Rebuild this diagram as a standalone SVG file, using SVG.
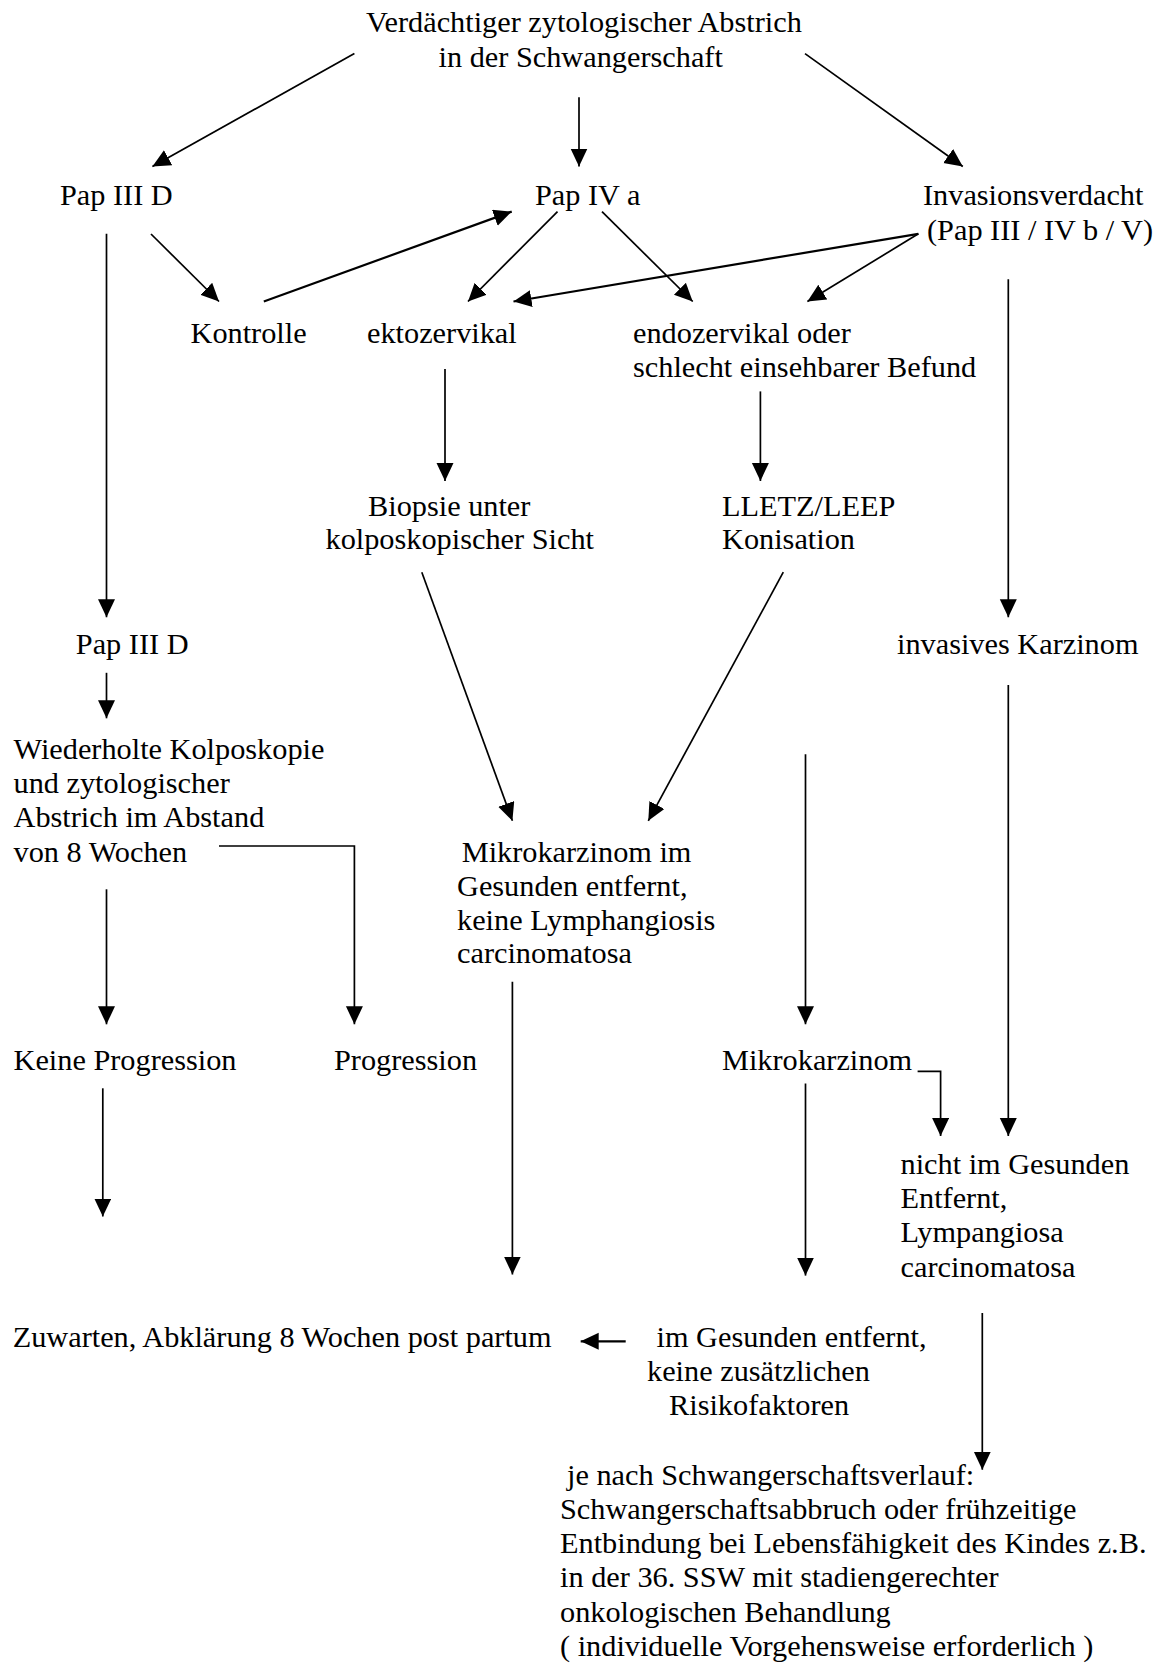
<svg xmlns="http://www.w3.org/2000/svg" width="1158" height="1663" viewBox="0 0 1158 1663">
<style>
text { font-family: "Liberation Serif", "Times New Roman", serif; font-size: 30.3px; fill: #000; }
.c { fill: none; stroke: #000; stroke-width: 1.7; marker-end: url(#ah); }
.t { stroke-width: 2.2; }
</style>
<defs>
<marker id="ah" markerUnits="userSpaceOnUse" markerWidth="19" markerHeight="18" refX="18" refY="8.5" orient="auto">
<path d="M0,0 L18,8.5 L0,17 z" fill="#000"/>
</marker>
</defs>
<rect width="1158" height="1663" fill="#fff"/>
<g id="connectors">
<line class="c" x1="354.4" y1="53.6" x2="152.4" y2="166.5"/>
<line class="c" x1="579" y1="97.3" x2="579" y2="166.5"/>
<line class="c" x1="805" y1="53.6" x2="962.8" y2="166.5"/>
<line class="c" x1="106.5" y1="233.8" x2="106.5" y2="617.3"/>
<line class="c" x1="151" y1="234" x2="219" y2="301.5"/>
<line class="c t" x1="263.8" y1="301.5" x2="511.7" y2="211.6"/>
<line class="c" x1="557.5" y1="211.6" x2="468" y2="301.5"/>
<line class="c" x1="602" y1="211.6" x2="692.7" y2="301.5"/>
<line class="c t" x1="918.4" y1="233.8" x2="513.5" y2="301.5"/>
<line class="c" x1="918.4" y1="233.8" x2="807.4" y2="301.5"/>
<line class="c" x1="445" y1="369" x2="445" y2="481"/>
<line class="c" x1="760.4" y1="391.4" x2="760.4" y2="481"/>
<line class="c" x1="1008.3" y1="279.3" x2="1008.3" y2="617.3"/>
<line class="c" x1="421.8" y1="572.2" x2="512.4" y2="820.8"/>
<line class="c" x1="783.3" y1="572.2" x2="648.3" y2="820.8"/>
<line class="c" x1="106.5" y1="672.8" x2="106.5" y2="718.3"/>
<line class="c" x1="1008.3" y1="685" x2="1008.3" y2="1136"/>
<line class="c" x1="805.5" y1="754.2" x2="805.5" y2="1024.3"/>
<path class="c" d="M219,846 H354.4 V1024.3"/>
<line class="c" x1="106.5" y1="889.3" x2="106.5" y2="1024.3"/>
<line class="c" x1="102.8" y1="1088.3" x2="102.8" y2="1216.5"/>
<line class="c" x1="512.4" y1="981.8" x2="512.4" y2="1274.5"/>
<line class="c" x1="805.5" y1="1083.5" x2="805.5" y2="1275.6"/>
<path class="c" d="M917.6,1071.3 H940.6 V1136"/>
<line class="c t" x1="625.7" y1="1341.3" x2="580.7" y2="1341.3"/>
<line class="c" x1="982.3" y1="1313" x2="982.3" y2="1469.7"/>
</g>
<g id="n-start"><text x="366" y="31.5">Verdächtiger zytologischer Abstrich</text><text x="438.5" y="66.5">in der Schwangerschaft</text></g>
<g id="n-pap3d"><text x="60" y="204.5">Pap III D</text></g>
<g id="n-pap4a"><text x="535" y="204.5">Pap IV a</text></g>
<g id="n-invasion"><text x="923" y="204.5">Invasionsverdacht</text><text x="927" y="239.7">(Pap III / IV b / V)</text></g>
<g id="n-kontrolle"><text x="190.5" y="343.3">Kontrolle</text></g>
<g id="n-ekto"><text x="367" y="343.3">ektozervikal</text></g>
<g id="n-endo"><text x="633" y="343.3">endozervikal oder</text><text x="633" y="376.6">schlecht einsehbarer Befund</text></g>
<g id="n-biopsie"><text x="368" y="516">Biopsie unter</text><text x="325.5" y="549.4">kolposkopischer Sicht</text></g>
<g id="n-lletz"><text x="722" y="516">LLETZ/LEEP</text><text x="722" y="549.4">Konisation</text></g>
<g id="n-pap3d2"><text x="75.8" y="654.3">Pap III D</text></g>
<g id="n-invasiv"><text x="897" y="654.3">invasives Karzinom</text></g>
<g id="n-wiederholt"><text x="13.5" y="759">Wiederholte Kolposkopie</text><text x="13.5" y="793">und zytologischer</text><text x="13.5" y="827">Abstrich im Abstand</text><text x="13.5" y="861.5">von 8 Wochen</text></g>
<g id="n-mikro1"><text x="461.7" y="861.5">Mikrokarzinom im</text><text x="457" y="896">Gesunden entfernt,</text><text x="457" y="930">keine Lymphangiosis</text><text x="457" y="963.3">carcinomatosa</text></g>
<g id="n-keine"><text x="13.5" y="1069.8">Keine Progression</text></g>
<g id="n-prog"><text x="334" y="1069.8">Progression</text></g>
<g id="n-mikro2"><text x="722" y="1069.8">Mikrokarzinom</text></g>
<g id="n-nicht"><text x="900.5" y="1173.5">nicht im Gesunden</text><text x="900.5" y="1207.5">Entfernt,</text><text x="900.5" y="1241.6">Lympangiosa</text><text x="900.5" y="1276.7">carcinomatosa</text></g>
<g id="n-zuwarten"><text x="12.7" y="1347">Zuwarten, Abklärung 8 Wochen post partum</text></g>
<g id="n-imgesunden"><text x="656.5" y="1347">im Gesunden entfernt,</text><text x="647" y="1381.3">keine zusätzlichen</text><text x="669" y="1414.7">Risikofaktoren</text></g>
<g id="n-jenach"><text x="567" y="1484.7">je nach Schwangerschaftsverlauf:</text><text x="560" y="1518.5">Schwangerschaftsabbruch oder frühzeitige</text><text x="560" y="1552.5">Entbindung bei Lebensfähigkeit des Kindes z.B.</text><text x="560" y="1587.3">in der 36. SSW mit stadiengerechter</text><text x="560" y="1622">onkologischen Behandlung</text><text x="560" y="1656.3">( individuelle Vorgehensweise erforderlich )</text></g>
</svg>
